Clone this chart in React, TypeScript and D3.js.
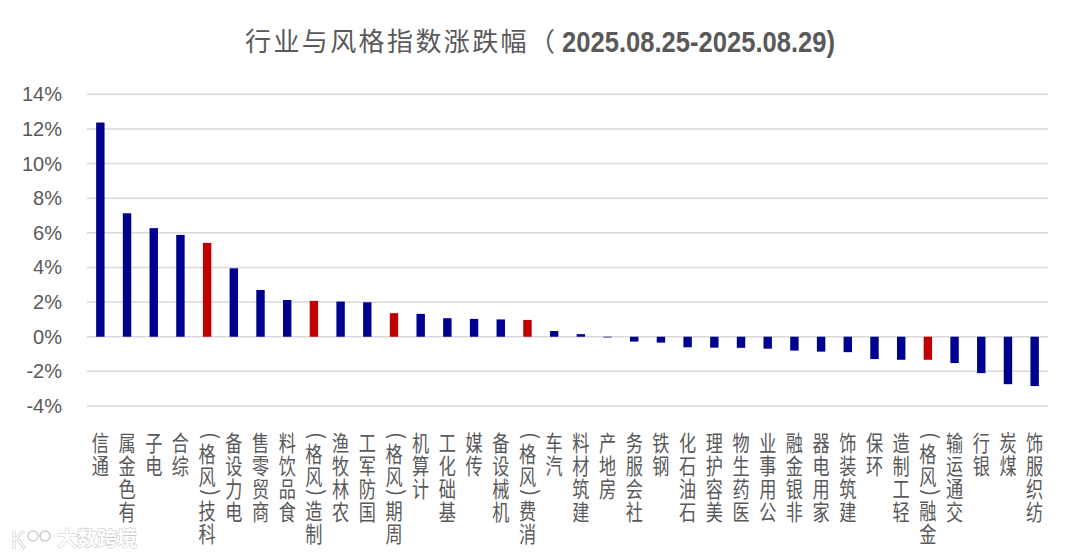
import React from "react";
import * as d3 from "d3";

const categories: string[] = [
  "通信", "有色金属", "电子", "综合", "科技(风格)", "电力设备", "商贸零售", "食品饮料",
  "制造(风格)", "农林牧渔", "国防军工", "周期(风格)", "计算机", "基础化工", "传媒", "机械设备",
  "消费(风格)", "汽车", "建筑材料", "房地产", "社会服务", "钢铁", "石油石化", "美容护理",
  "医药生物", "公用事业", "非银金融", "家用电器", "建筑装饰", "环保", "轻工制造", "金融(风格)",
  "交通运输", "银行", "煤炭", "纺织服饰",
];

const values: number[] = [
  12.37, 7.13, 6.27, 5.88, 5.42, 3.95, 2.7, 2.12,
  2.07, 2.03, 1.99, 1.36, 1.32, 1.07, 1.03, 1.0,
  0.97, 0.33, 0.15, -0.04, -0.28, -0.34, -0.61, -0.63,
  -0.64, -0.69, -0.8, -0.86, -0.89, -1.29, -1.33, -1.33,
  -1.52, -2.1, -2.74, -2.85,
];

const yTicks: number[] = [-4, -2, 0, 2, 4, 6, 8, 10, 12, 14];

const titleMain = "行业与风格指数涨跌幅（";
const titleDate = "2025.08.25-2025.08.29)";
const watermark = "大数跨境";

const BLUE = "#00008F";
const RED = "#C00000";

export default function App() {
  const W = 1080;
  const H = 560;
  const x = d3
    .scaleBand<string>()
    .domain(categories)
    .range([87, 1048])
    .paddingInner(0.685)
    .paddingOuter(0.3425);
  const y = d3.scaleLinear().domain([-4, 14]).range([406, 94.3]);

  const labelTop = 430;
  const cjkAdv = 23;
  const parenAdv = 11;

  return (
    <svg width={W} height={H} style={{ position: "absolute", left: 0, top: 0, background: "#fff" }}>
      <rect x={0} y={0} width={W} height={H} fill="#fff" />
      {/* title */}
      <text
        x={245}
        y={51}
        fontFamily="'Noto Sans CJK SC', sans-serif"
        fontSize={26}
        fill="#595959"
        style={{ letterSpacing: "2.4px" }}
      >
        {titleMain}
      </text>
      <text
        x={562}
        y={52}
        fontFamily="'Liberation Sans', Arial, sans-serif"
        fontWeight="bold"
        fontSize={30}
        fill="#595959"
        textLength={273}
        lengthAdjust="spacingAndGlyphs"
      >
        {titleDate}
      </text>

      {/* grid */}
      {yTicks.map((t) => (
        <line
          key={"g" + t}
          x1={87}
          x2={1048}
          y1={y(t)}
          y2={y(t)}
          stroke="#d9d9d9"
          strokeWidth={1.5}
        />
      ))}
      {yTicks.map((t) => (
        <text
          key={"t" + t}
          x={62}
          y={y(t) + 7}
          textAnchor="end"
          fontFamily="'Liberation Sans', Arial, sans-serif"
          fontSize={20}
          fill="#595959"
        >
          {t + "%"}
        </text>
      ))}

      {/* bars */}
      {categories.map((c, i) => {
        const v = values[i];
        const isStyle = c.includes("风格");
        return (
          <rect
            key={"b" + c}
            x={x(c)!}
            width={x.bandwidth()}
            y={Math.min(y(v), y(0))}
            height={Math.abs(y(v) - y(0))}
            fill={isStyle ? RED : BLUE}
          />
        );
      })}

      {/* x labels: upright CJK chars stacked bottom-to-top */}
      {categories.map((c) => {
        const chars = Array.from(c);
        const cx = x(c)! + x.bandwidth() / 2;
        const rev = [...chars].reverse();
        let cum = 0;
        return (
          <g key={"l" + c}>
            {rev.map((ch, j) => {
              const isParen = ch === "(" || ch === ")";
              const adv = isParen ? parenAdv : cjkAdv;
              const cy = labelTop + cum + adv / 2;
              cum += adv;
              if (isParen) {
                return (
                  <text
                    key={j}
                    transform={`translate(${cx},${cy}) rotate(-90)`}
                    textAnchor="middle"
                    dominantBaseline="central"
                    fontFamily="'Noto Sans CJK SC', sans-serif"
                    fontSize={20}
                    fill="#595959"
                  >
                    {ch}
                  </text>
                );
              }
              return (
                <text
                  key={j}
                  transform={`translate(${cx},${cy}) scale(0.78,1)`}
                  textAnchor="middle"
                  dominantBaseline="central"
                  fontFamily="'Noto Sans CJK SC', sans-serif"
                  fontSize={22}
                  fill="#595959"
                >
                  {ch}
                </text>
              );
            })}
          </g>
        );
      })}

      {/* watermark */}
      <g opacity={0.9}>
        <path d="M14 531 L14 549 M14 540 L24 531 M17 538 L25 549" stroke="#c8c8c8" strokeWidth={3} fill="none" />
        <path d="M14 531 L14 549 M14 540 L24 531 M17 538 L25 549" stroke="#fff" strokeWidth={1.5} fill="none" />
        <circle cx={33} cy={536} r={5} fill="#fff" stroke="#c8c8c8" strokeWidth={1.5} />
        <circle cx={45} cy={536} r={5} fill="#fff" stroke="#c8c8c8" strokeWidth={1.5} />
        <text
          x={57}
          y={546}
          fontFamily="'Noto Sans CJK SC', sans-serif"
          fontWeight="bold"
          fontSize={20}
          fill="#fff"
          stroke="#c0c0c0"
          strokeWidth={1}
          paintOrder="stroke"
        >
          {watermark}
        </text>
      </g>
    </svg>
  );
}
